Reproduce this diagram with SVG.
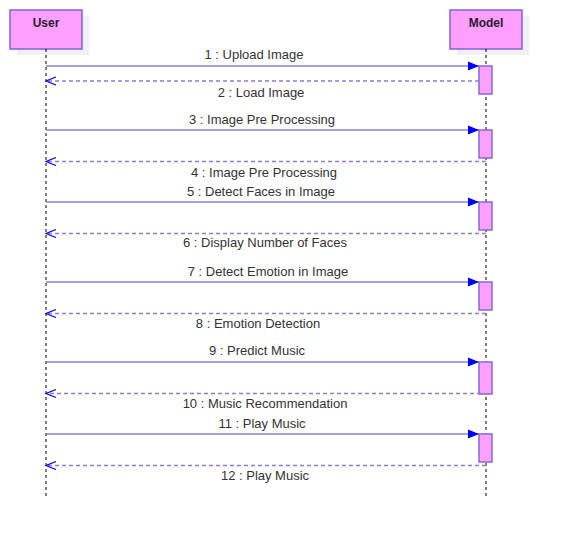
<svg xmlns="http://www.w3.org/2000/svg" width="561" height="536" viewBox="0 0 561 536">
<defs>
<style>
.head{fill:#ffa0ff;stroke:#7b61e0;stroke-width:1.5}
.shadow{fill:#f1f1f4;stroke:none}
.title{font-family:"Liberation Sans",Arial,sans-serif;font-size:12px;font-weight:bold;fill:#2b1a33;text-anchor:middle}
.life{stroke:#000;stroke-width:1;stroke-dasharray:3,3;fill:none}
.act{fill:#ffa0ff;stroke:#8268df;stroke-width:1.5}
.msg{stroke:#8580d2;stroke-width:1.5;fill:none}
.ret{stroke:#8580d2;stroke-width:1.5;stroke-dasharray:4,3;fill:none}
.lbl{font-family:"Liberation Sans",Arial,sans-serif;font-size:13px;fill:#333;text-anchor:middle}
</style>
<marker id="fa" markerUnits="userSpaceOnUse" markerWidth="12" markerHeight="10" refX="11" refY="5" orient="auto" viewBox="0 0 12 10">
<path d="M0,0.5 L11,5 L0,9.5 Z" fill="#0000ff"/>
</marker>
<marker id="oa" markerUnits="userSpaceOnUse" markerWidth="12" markerHeight="10" refX="11" refY="5" orient="auto" viewBox="0 0 12 10">
<path d="M1,1 L11,5 L1,9" fill="none" stroke="#0000ff" stroke-width="1.2"/>
</marker>
</defs>
<rect width="561" height="536" fill="#fff"/>
<g id="user">
<rect class="shadow" x="17" y="16" width="72" height="39"/>
<rect class="head" x="10" y="10" width="72" height="39"/>
<text class="title" x="46" y="27">User</text>
<line class="life" x1="46" y1="49" x2="46" y2="496"/>
</g>
<g id="model">
<rect class="shadow" x="457" y="16" width="72" height="39"/>
<rect class="head" x="450" y="10" width="72" height="39"/>
<text class="title" x="486" y="27">Model</text>
<line class="life" x1="486" y1="49" x2="486" y2="496"/>
<rect class="act" x="479" y="66" width="13" height="28"/>
<rect class="act" x="479" y="130" width="13" height="28"/>
<rect class="act" x="479" y="202" width="13" height="28"/>
<rect class="act" x="479" y="282" width="13" height="28"/>
<rect class="act" x="479" y="362" width="13" height="32"/>
<rect class="act" x="479" y="434" width="13" height="28"/>
</g>
<g id="connectors">
<line class="msg" x1="46" y1="66" x2="479" y2="66" marker-end="url(#fa)"/>
<line class="ret" x1="479" y1="81" x2="46" y2="81" marker-end="url(#oa)"/>
<line class="msg" x1="46" y1="130" x2="479" y2="130" marker-end="url(#fa)"/>
<line class="ret" x1="486" y1="161.5" x2="46" y2="161.5" marker-end="url(#oa)"/>
<line class="msg" x1="46" y1="202" x2="479" y2="202" marker-end="url(#fa)"/>
<line class="ret" x1="486" y1="233.5" x2="46" y2="233.5" marker-end="url(#oa)"/>
<line class="msg" x1="46" y1="282" x2="479" y2="282" marker-end="url(#fa)"/>
<line class="ret" x1="486" y1="313.5" x2="46" y2="313.5" marker-end="url(#oa)"/>
<line class="msg" x1="46" y1="362" x2="479" y2="362" marker-end="url(#fa)"/>
<line class="ret" x1="481" y1="393.5" x2="46" y2="393.5" marker-end="url(#oa)"/>
<line class="msg" x1="46" y1="434" x2="479" y2="434" marker-end="url(#fa)"/>
<line class="ret" x1="486" y1="465.5" x2="46" y2="465.5" marker-end="url(#oa)"/>
</g>
<g id="labels">
<text class="lbl" x="254" y="59">1 : Upload Image</text>
<text class="lbl" x="261" y="97">2 : Load Image</text>
<text class="lbl" x="262" y="124">3 : Image Pre Processing</text>
<text class="lbl" x="264" y="177">4 : Image Pre Processing</text>
<text class="lbl" x="261" y="196">5 : Detect Faces in Image</text>
<text class="lbl" x="265" y="247">6 : Display Number of Faces</text>
<text class="lbl" x="268" y="276">7 : Detect Emotion in Image</text>
<text class="lbl" x="258" y="328">8 : Emotion Detection</text>
<text class="lbl" x="257" y="355">9 : Predict Music</text>
<text class="lbl" x="265" y="408">10 : Music Recommendation</text>
<text class="lbl" x="262" y="428">11 : Play Music</text>
<text class="lbl" x="265" y="480">12 : Play Music</text>
</g>
</svg>
